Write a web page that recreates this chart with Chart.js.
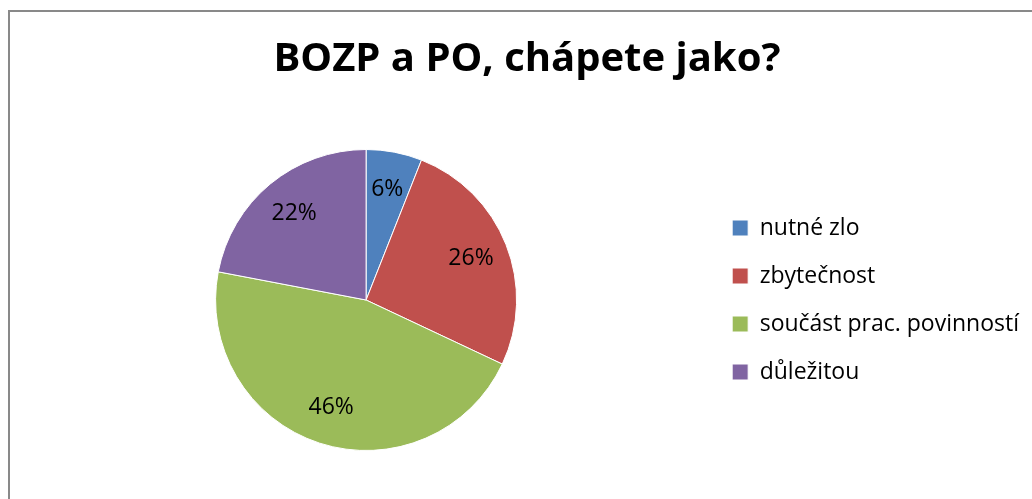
<!DOCTYPE html>
<html>

<head>
  <meta charset="utf-8">
  <title>BOZP a PO</title>
  <script src="https://cdn.jsdelivr.net/npm/chart.js"></script>
  <style>
    html, body { margin: 0; padding: 0; background: #fff; overflow: hidden; }
    #frame {
      position: absolute; left: 8px; top: 10px;
      width: 1040px; height: 500px;
      border: 2px solid #898989;
    }
    #box { position: absolute; left: 0; top: 0; width: 1022px; height: 487px; }
  </style>
</head>

<body>
  <div id="frame">
    <div id="box"><canvas id="pie"></canvas></div>
  </div>
  <script>
    var categories = ['nutné zlo', 'zbytečnost', 'součást prac. povinností', 'důležitou'];
    var shares = [6, 26, 46, 22];
    var sliceColors = ['#4F81BD', '#C0504D', '#9BBB59', '#8064A2'];

    var FONT = "'Open Sans', sans-serif";

    // percent labels inside each slice
    var sliceLabels = {
      id: 'sliceLabels',
      afterDatasetsDraw: function (chart) {
        var ctx = chart.ctx;
        var meta = chart.getDatasetMeta(0);
        var total = shares.reduce(function (a, b) { return a + b; }, 0);
        ctx.save();
        ctx.font = '23px ' + FONT;
        ctx.fillStyle = '#000';
        ctx.textAlign = 'center';
        ctx.textBaseline = 'middle';
        meta.data.forEach(function (arc, i) {
          var p = arc.getProps(['x', 'y', 'startAngle', 'endAngle', 'outerRadius'], true);
          var mid = (p.startAngle + p.endAngle) / 2;
          var r = p.outerRadius * 0.75;
          var txt = Math.round(shares[i] / total * 100) + '%';
          ctx.fillText(txt, p.x + Math.cos(mid) * r, p.y + Math.sin(mid) * r);
        });
        ctx.restore();
      }
    };

    new Chart(document.getElementById('pie'), {
      type: 'pie',
      data: {
        labels: categories,
        datasets: [{
          data: shares,
          backgroundColor: sliceColors,
          borderColor: '#ffffff',
          borderWidth: 1
        }]
      },
      plugins: [sliceLabels],
      options: {
        responsive: true,
        maintainAspectRatio: false,
        animation: false,
        layout: { padding: { left: 15, right: 3, top: 0, bottom: 48 } },
        plugins: {
          tooltip: { enabled: false },
          title: {
            display: true,
            text: 'BOZP a PO, chápete jako?',
            color: '#000',
            font: { family: FONT, size: 40, weight: 'bold' },
            padding: { top: 24, bottom: 65 }
          },
          legend: {
            position: 'right',
            align: 'center',
            fullSize: false,
            labels: {
              color: '#000',
              font: { family: FONT, size: 23 },
              boxWidth: 16,
              boxHeight: 16,
              padding: 25
            }
          }
        }
      }
    });
  </script>
</body>

</html>
